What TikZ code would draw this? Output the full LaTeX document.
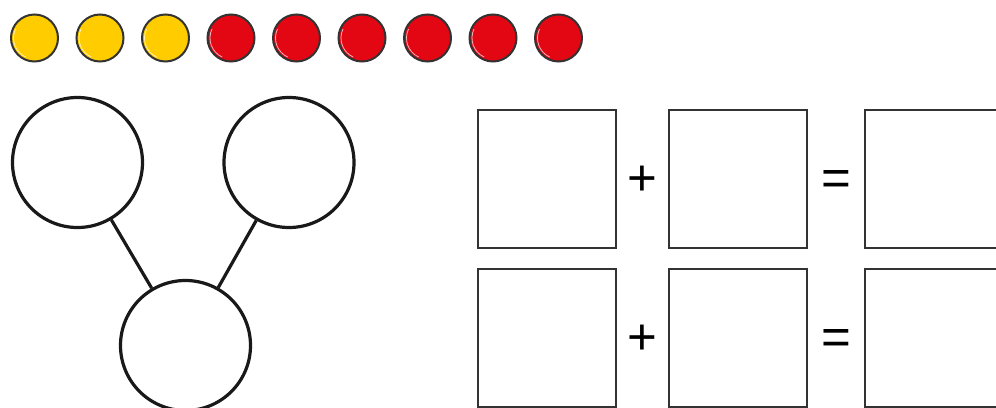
\documentclass[tikz,border=0pt]{standalone}
\usepackage{fontspec}
\setmainfont{Liberation Sans}
\usetikzlibrary{positioning}
\definecolor{counteryellow}{HTML}{FFCC00}
\definecolor{counterred}{HTML}{E30613}
\definecolor{rim}{HTML}{333333}

\begin{document}
\begin{tikzpicture}[x=1pt,y=-1pt,
  counter/.style={circle,draw=rim,line width=2pt,minimum size=47pt,inner sep=0pt},
  part/.style={circle,draw=black!90,line width=3.2pt,minimum size=130pt,inner sep=0pt},
  answerbox/.style={draw=rim,line width=2.4pt,minimum size=138pt,inner sep=0pt},
  sign/.style={font=\fontsize{51}{51}\selectfont,inner sep=0pt}]
\clip (0,0) rectangle (996,407);
% counters
\def\n{9}
\foreach \x in {1,...,\n}
{
\ifnum\x<4 \def\col{counteryellow}\else\def\col{counterred}\fi
\node[counter,fill=\col] (c\x) at (34.5+\x*65.5-65.5,38) {};
\draw[white,opacity=0.7,line width=0.8pt] (c\x.center) ++(115:21) arc[start angle=115,end angle=205,radius=21];
}
% part-whole model
\node[part] (left) at (77.5,162.5) {};
\node[part] (right) at (289,162.5) {};
\node[part] (whole) at (185.5,345.5) {};
\draw[line width=3.2pt,black!90] (left) -- (whole);
\draw[line width=3.2pt,black!90] (right) -- (whole);
% number sentences
\node[answerbox] (a1) at (547,179) {};
\node[answerbox] (b1) at (738,179) {};
\node[answerbox] (s1) at (934,179) {};
\node[sign] (p1) at (642.5,180.5) {+};
\node[sign] (e1) at (836.5,182.5) {=};
\node[answerbox] (a2) at (547,338) {};
\node[answerbox] (b2) at (738,338) {};
\node[answerbox] (s2) at (934,338) {};
\node[sign] (p2) at (642.5,340) {+};
\node[sign] (e2) at (836.5,342) {=};
\end{tikzpicture}
\end{document}
